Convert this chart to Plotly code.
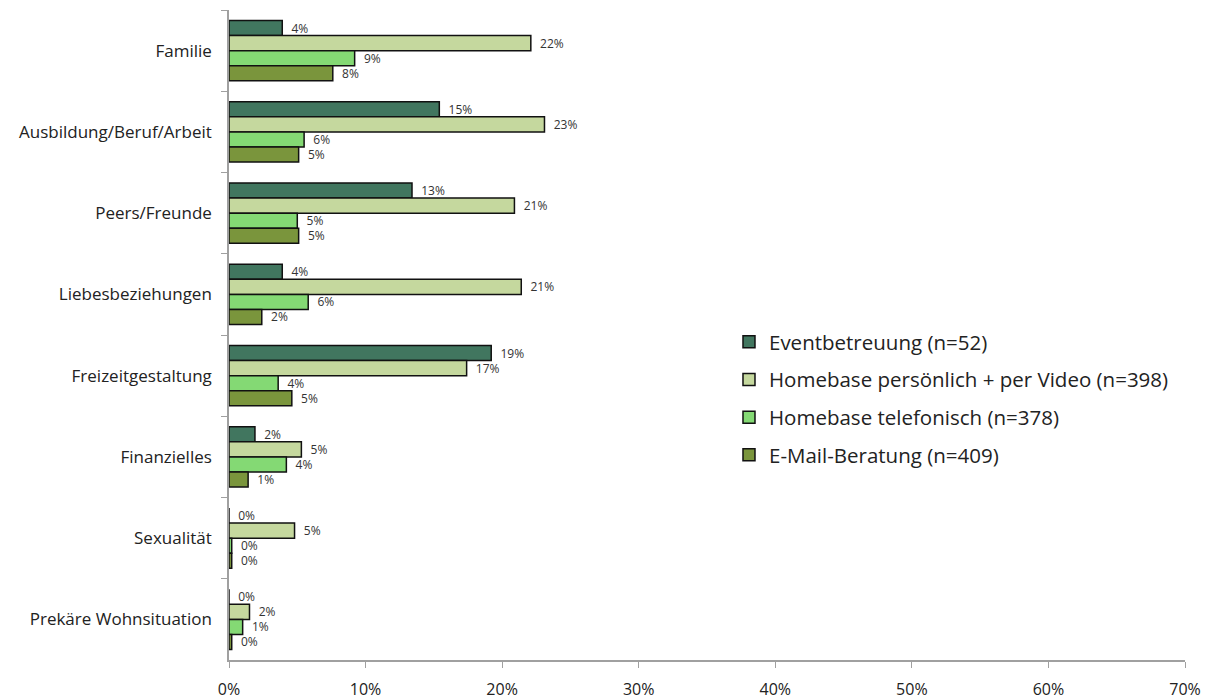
import plotly.graph_objects as go

categories = ["Familie", "Ausbildung/Beruf/Arbeit", "Peers/Freunde", "Liebesbeziehungen",
              "Freizeitgestaltung", "Finanzielles", "Sexualität", "Prekäre Wohnsituation"]
series_names = ["Eventbetreuung (n=52)", "Homebase persönlich + per Video (n=398)",
                "Homebase telefonisch (n=378)", "E-Mail-Beratung (n=409)"]
event = [0.039, 0.154, 0.134, 0.039, 0.192, 0.019, 0.0, 0.0]
persoenlich = [0.221, 0.231, 0.209, 0.214, 0.174, 0.053, 0.048, 0.015]
telefonisch = [0.092, 0.055, 0.050, 0.058, 0.036, 0.042, 0.002, 0.010]
email = [0.076, 0.051, 0.051, 0.024, 0.046, 0.014, 0.002, 0.002]
colors = ["#41765f", "#c5d89e", "#84d974", "#7a953c"]
x_ticks = [0, 0.1, 0.2, 0.3, 0.4, 0.5, 0.6, 0.7]

FONT = "Open Sans"
fig = go.Figure()
for i, (name, vals) in enumerate(zip(series_names, [event, persoenlich, telefonisch, email])):
    fig.add_trace(go.Bar(
        y=categories, x=vals, orientation="h", name=name,
        marker=dict(color=colors[i], line=dict(color="#111111", width=1.5)),
        texttemplate="\u00a0\u00a0%{x:.0%}", textposition="outside", constraintext="none",
        textfont=dict(size=12, color="#333333", family=FONT),
        cliponaxis=False, legendgroup=f"g{i}",
    ))

fig.update_layout(
    width=1212, height=700,
    margin=dict(l=229, r=27, t=10, b=40),
    paper_bgcolor="white", plot_bgcolor="white",
    barmode="group", bargap=0.26, bargroupgap=0,
    font=dict(family=FONT, color="#222222"),
    legend=dict(x=0.523, y=0.52, xanchor="left", yanchor="top",
                font=dict(size=20.5, color="#222222"),
                traceorder="grouped", tracegroupgap=8,
                bgcolor="rgba(0,0,0,0)"),
    xaxis=dict(range=[0, 0.7], tickvals=x_ticks, tickformat=".0%",
               showgrid=False, zeroline=False, showline=True,
               linecolor="#a0a0a0", linewidth=1.5, ticks="outside",
               tickcolor="#a0a0a0", ticklen=6, ticklabelstandoff=8,
               automargin=False,
               tickfont=dict(size=16, color="#222222")),
    yaxis=dict(autorange="reversed", showgrid=False, showline=True,
               linecolor="#a0a0a0", linewidth=1.5, ticks="outside",
               tickson="boundaries", tickcolor="#a0a0a0", ticklen=6,
               ticklabelstandoff=12, automargin=False,
               tickfont=dict(size=17, color="#222222")),
)
fig.write_html("out.html")
